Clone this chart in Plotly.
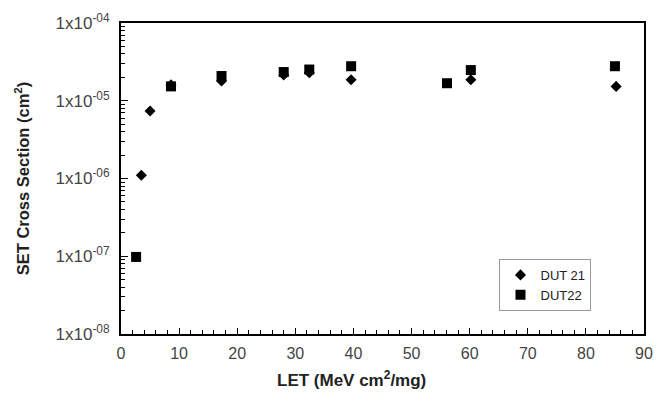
import plotly.graph_objects as go

dut21_let = [3.5, 5.0, 8.6, 17.3, 28.0, 32.4, 39.6, 60.2, 85.2]
dut21_xs = [1.1e-6, 7.4e-6, 1.6e-5, 1.8e-5, 2.15e-5, 2.3e-5, 1.86e-5, 1.86e-5, 1.53e-5]
dut22_let = [2.6, 8.6, 17.3, 28.0, 32.4, 39.6, 56.1, 60.2, 85.0]
dut22_xs = [9.8e-8, 1.53e-5, 2.08e-5, 2.34e-5, 2.52e-5, 2.78e-5, 1.68e-5, 2.48e-5, 2.78e-5]

y_tickvals = [1e-8, 1e-7, 1e-6, 1e-5, 1e-4]
y_ticktext = ["1x10<sup>-08</sup>", "1x10<sup>-07</sup>", "1x10<sup>-06</sup>",
              "1x10<sup>-05</sup>", "1x10<sup>-04</sup>"]
y_minor = [k * 10.0 ** e for e in range(-8, -4) for k in range(2, 10)]
x_tickvals = [0, 10, 20, 30, 40, 50, 60, 70, 80, 90]

fig = go.Figure()
fig.add_trace(go.Scatter(x=dut21_let, y=dut21_xs, mode="markers", name="DUT 21",
                         marker=dict(symbol="diamond", size=8.5, color="black")))
fig.add_trace(go.Scatter(x=dut22_let, y=dut22_xs, mode="markers", name="DUT22",
                         marker=dict(symbol="square", size=10, color="black")))

L, R, T, B, W, H = 121, 11, 15, 69, 664, 403
pw, ph = W - L - R, H - T - B

font_family = "Liberation Sans, Arial, sans-serif"
fig.update_layout(
    width=W, height=H,
    margin=dict(l=L, r=R, t=T, b=B),
    paper_bgcolor="white", plot_bgcolor="white",
    font=dict(family=font_family, size=13, color="#333"),
    showlegend=True,
    legend=dict(x=(506 - L) / pw, y=(H - B - 257) / ph, xanchor="left", yanchor="top",
                bordercolor="#999", borderwidth=1, bgcolor="white",
                font=dict(size=13, color="#222"),
                itemwidth=30, tracegroupgap=0),
    annotations=[dict(text="<b>LET (MeV cm<sup>2</sup>/mg)</b>",
                      x=(355 - L) / pw, y=(H - B - 380) / ph,
                      xref="paper", yref="paper", xanchor="center", yanchor="middle",
                      showarrow=False, font=dict(size=17, color="#222"))],
)

fig.update_xaxes(
    range=[0, 90], tickvals=x_tickvals, ticks="inside", ticklen=6, tickcolor="black",
    showline=True, linecolor="black", linewidth=2, mirror=True, showgrid=False, zeroline=False,
    minor=dict(ticks="inside", dtick=2, ticklen=4, tickcolor="black", showgrid=False),
    ticklabelstandoff=4,
    tickfont=dict(size=16, color="#444"),
)
fig.update_yaxes(
    type="log", range=[-8, -4], tickvals=y_tickvals, ticktext=y_ticktext,
    ticks="inside", ticklen=7, tickcolor="black",
    showline=True, linecolor="black", linewidth=2, mirror=True, showgrid=False, zeroline=False,
    minor=dict(ticks="inside", tickvals=y_minor, ticklen=4, tickcolor="black", showgrid=False),
    ticklabelstandoff=6,
    title=dict(text="<b>SET Cross Section (cm<sup>2</sup>)</b>", font=dict(size=16.5, color="#222"), standoff=22),
    tickfont=dict(size=17, color="#444"),
)
fig.write_html("out.html")
